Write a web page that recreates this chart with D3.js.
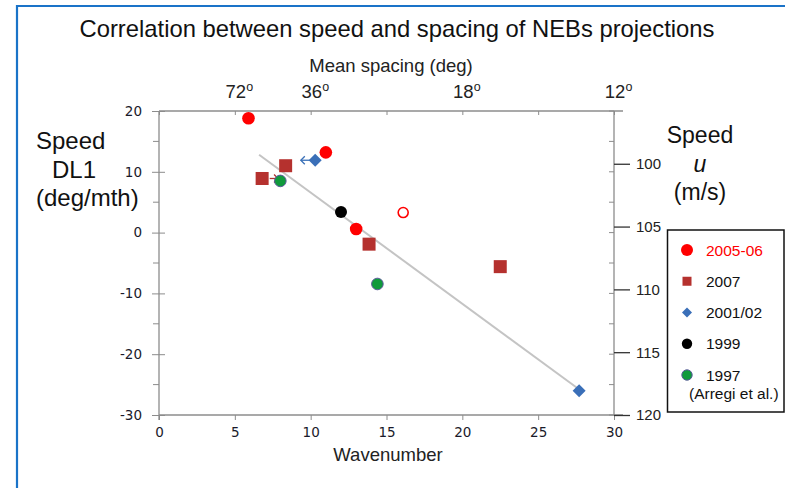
<!DOCTYPE html>
<html><head><meta charset="utf-8">
<script src="https://cdn.jsdelivr.net/npm/d3@7"></script>
<style>body{margin:0;background:#fff}svg{display:block;font-family:"Liberation Sans",Arial,sans-serif}</style>
</head><body><svg id="c" width="785" height="488"></svg>
<script>
// ---- data ----
const red0506X = [5.9, 11.0, 13.0];
const red0506Y = [18.8, 13.2, 0.6];
const redOpenX = [16.1];
const redOpenY = [3.3];
const sq2007X = [6.8, 8.35, 13.85, 22.5];
const sq2007Y = [8.9, 11.0, -1.9, -5.6];
const dia0102X = [10.3, 27.7];
const dia0102Y = [11.9, -26.0];
const blk1999X = [12.0];
const blk1999Y = [3.4];
const grn1997X = [8.0, 14.4];
const grn1997Y = [8.5, -8.45];
const trendX = [6.6, 27.6];
const trendY = [12.8, -25.6];
const redArrowX = [7.3, 7.85], redArrowY = [8.9, 8.9];
const blueArrowX = [10.0, 9.35], blueArrowY = [11.9, 11.9];
const xTicks = [0, 5, 10, 15, 20, 25, 30];
const yTicks = [20, 10, 0, -10, -20, -30];
const yMinor = [15, 5, -5, -15, -25];
const topTickVals = [5, 10, 20, 30];
const topTickLabels = ["72", "36", "18", "12"];
const uTicks = [100, 105, 110, 115, 120];
const legendLabels = ["2005-06", "2007", "2001/02", "1999", "1997"];

// ---- layout ----
const svg = d3.select("#c");
const L = 159, R = 614, T = 111, B = 415;
const x = d3.scaleLinear().domain([0, 30]).range([L, R]);
const y = d3.scaleLinear().domain([-30, 20]).range([B, T]);
const u = d3.scaleLinear().domain([95.8, 120]).range([T, B]);
const axisGray = "#8c8c8c";
const tickFont = "DejaVu Sans";

// border
svg.append("line").attr("x1",17).attr("x2",785).attr("y1",6).attr("y2",6).attr("stroke","#1a73c8").attr("stroke-width",2.2);
svg.append("line").attr("x1",17).attr("x2",17).attr("y1",5).attr("y2",488).attr("stroke","#1a73c8").attr("stroke-width",2.2);

// title
svg.append("text").attr("x",397).attr("y",37).attr("text-anchor","middle").attr("font-size",23.8).attr("fill","#111")
  .text("Correlation between speed and spacing of NEBs projections");

// bottom axis
const gx = svg.append("g").attr("transform",`translate(0,${B})`)
  .call(d3.axisBottom(x).tickValues(xTicks).tickFormat(d=>String(d)).tickSize(5).tickPadding(7));
gx.select(".domain").remove();
gx.selectAll("line").attr("stroke",axisGray);
gx.selectAll("text").attr("font-size",13.5).attr("fill","#1a1a2a").attr("font-family",tickFont);
svg.append("line").attr("x1",L).attr("x2",623).attr("y1",B).attr("y2",B).attr("stroke",axisGray).attr("stroke-width",1.3);
svg.append("text").attr("x",388).attr("y",461).attr("text-anchor","middle").attr("font-size",18.5).attr("fill","#222").text("Wavenumber");

// top axis
const gt = svg.append("g").attr("transform",`translate(0,${T})`)
  .call(d3.axisBottom(x).tickValues(xTicks).tickSize(4).tickFormat(""));
gt.select(".domain").remove();
gt.selectAll("line").attr("stroke",axisGray);
svg.append("line").attr("x1",L).attr("x2",623).attr("y1",T).attr("y2",T).attr("stroke",axisGray).attr("stroke-width",1.3);
svg.append("g").selectAll("text").data(topTickVals).join("text")
  .attr("x",d=>x(d)+1).attr("y",98).attr("text-anchor","middle").attr("font-size",18.5).attr("fill","#222")
  .text((d,i)=>topTickLabels[i]);
svg.append("g").selectAll("text").data(topTickVals).join("text")
  .attr("x",d=>x(d)+11.5).attr("y",91).attr("font-size",12.5).attr("fill","#222").text("o");
svg.append("text").attr("x",391).attr("y",72).attr("text-anchor","middle").attr("font-size",18.5).attr("fill","#222").text("Mean spacing (deg)");

// left axis
const gy = svg.append("g").attr("transform",`translate(${L},0)`)
  .call(d3.axisLeft(y).tickValues(yTicks).tickFormat(d=>String(d)).tickSize(7).tickPadding(10));
gy.select(".domain").remove();
gy.selectAll("line").attr("stroke",axisGray).attr("x2",-7).attr("x1",6);
gy.selectAll("text").attr("font-size",13.5).attr("fill","#1a1a2a").attr("font-family",tickFont);
svg.append("g").selectAll("line").data(yMinor).join("line")
  .attr("x1",L-6).attr("x2",L).attr("y1",d=>y(d)).attr("y2",d=>y(d)).attr("stroke",axisGray);
svg.append("line").attr("x1",L).attr("x2",L).attr("y1",T).attr("y2",420).attr("stroke",axisGray).attr("stroke-width",1.3);

// right axis (DL1 mirror ticks inward)
svg.append("g").selectAll("line").data(yTicks.concat(yMinor)).join("line")
  .attr("x1",R-5).attr("x2",R).attr("y1",d=>y(d)).attr("y2",d=>y(d)).attr("stroke",axisGray);
svg.append("line").attr("x1",R).attr("x2",R).attr("y1",T).attr("y2",B).attr("stroke",axisGray).attr("stroke-width",1.3);
// u axis ticks
const gu = svg.append("g").attr("transform",`translate(${R},0)`)
  .call(d3.axisRight(u).tickValues(uTicks).tickSize(16).tickPadding(6));
gu.select(".domain").remove();
gu.selectAll("line").attr("stroke","#333").attr("stroke-width",1.3);
gu.selectAll("text").attr("font-size",15).attr("fill","#222");

// axis titles
const lt = svg.append("text").attr("font-size",24).attr("fill","#111");
[["Speed",36,149],["DL1",52,178],["(deg/mth)",36,206]].forEach(([t,xx,yy])=>lt.append("tspan").attr("x",xx).attr("y",yy).text(t));
const rt = svg.append("text").attr("text-anchor","middle").attr("font-size",23).attr("fill","#111");
rt.append("tspan").attr("x",700).attr("y",143).text("Speed");
rt.append("tspan").attr("x",700).attr("y",172).attr("font-style","italic").text("u");
rt.append("tspan").attr("x",700).attr("y",200).text("(m/s)");

// trend line
svg.append("line").attr("x1",x(trendX[0])).attr("y1",y(trendY[0])).attr("x2",x(trendX[1])).attr("y2",y(trendY[1]))
  .attr("stroke","#c4c4c4").attr("stroke-width",2);

// arrows
function arrow(xs, ys, col){
  const x1=x(xs[0]), y1=y(ys[0]), x2=x(xs[1]), y2=y(ys[1]);
  const dir = Math.sign(x2-x1);
  svg.append("line").attr("x1",x1).attr("y1",y1).attr("x2",x2).attr("y2",y2).attr("stroke",col).attr("stroke-width",1.3);
  svg.append("path").attr("d",`M${x2-dir*4},${y2-4}L${x2},${y2}L${x2-dir*4},${y2+4}`).attr("fill","none").attr("stroke",col).attr("stroke-width",1.3);
}
arrow(redArrowX, redArrowY, "#b03030");
arrow(blueArrowX, blueArrowY, "#3a70b8");

const RED="#ff0000", BROWN="#b5312e", BLUE="#3a6fb8", GREEN="#109a3c";
const zip=(a,b)=>a.map((v,i)=>[v,b[i]]);
// squares
svg.append("g").selectAll("rect").data(zip(sq2007X,sq2007Y)).join("rect")
  .attr("x",d=>x(d[0])-6.5).attr("y",d=>y(d[1])-6.5).attr("width",13).attr("height",13).attr("fill",BROWN);
// diamonds
svg.append("g").selectAll("path").data(zip(dia0102X,dia0102Y)).join("path")
  .attr("d",d=>{const cx=x(d[0]),cy=y(d[1]),r=6.5;return `M${cx},${cy-r}L${cx+r},${cy}L${cx},${cy+r}L${cx-r},${cy}Z`;}).attr("fill",BLUE);
// circles
svg.append("g").selectAll("circle").data(zip(red0506X,red0506Y)).join("circle")
  .attr("cx",d=>x(d[0])).attr("cy",d=>y(d[1])).attr("r",6.3).attr("fill",RED);
svg.append("g").selectAll("circle").data(zip(redOpenX,redOpenY)).join("circle")
  .attr("cx",d=>x(d[0])).attr("cy",d=>y(d[1])).attr("r",5).attr("fill","#fff").attr("stroke",RED).attr("stroke-width",1.6);
svg.append("g").selectAll("circle").data(zip(blk1999X,blk1999Y)).join("circle")
  .attr("cx",d=>x(d[0])).attr("cy",d=>y(d[1])).attr("r",6).attr("fill","#000");
svg.append("g").selectAll("circle").data(zip(grn1997X,grn1997Y)).join("circle")
  .attr("cx",d=>x(d[0])).attr("cy",d=>y(d[1])).attr("r",5.8).attr("fill",GREEN).attr("stroke","#5a5a9a").attr("stroke-width",1);

// legend
svg.append("rect").attr("x",667.5).attr("y",230).attr("width",116.5).attr("height",182).attr("fill","#fff").attr("stroke","#111").attr("stroke-width",1.5);
const ly = d3.scalePoint().domain(legendLabels).range([250,375]);
const lx = 687;
const shapes = [
  g=>g.append("circle").attr("r",6).attr("fill",RED),
  g=>g.append("rect").attr("x",-4.5).attr("y",-4.5).attr("width",9).attr("height",9).attr("fill",BROWN),
  g=>g.append("path").attr("d","M0,-5L5,0L0,5L-5,0Z").attr("fill",BLUE),
  g=>g.append("circle").attr("r",5.2).attr("fill","#000"),
  g=>g.append("circle").attr("r",5.2).attr("fill",GREEN).attr("stroke","#5a5a9a")
];
legendLabels.forEach((lab,i)=>{
  const g = svg.append("g").attr("transform",`translate(${lx},${ly(lab)})`);
  shapes[i](g);
  svg.append("text").attr("x",706).attr("y",ly(lab)+5.5).attr("font-size",15.5).attr("fill",i===0?RED:"#111").text(lab);
});
svg.append("text").attr("x",689).attr("y",399).attr("font-size",15.5).attr("fill","#111").text("(Arregi et al.)");
</script></body></html>
